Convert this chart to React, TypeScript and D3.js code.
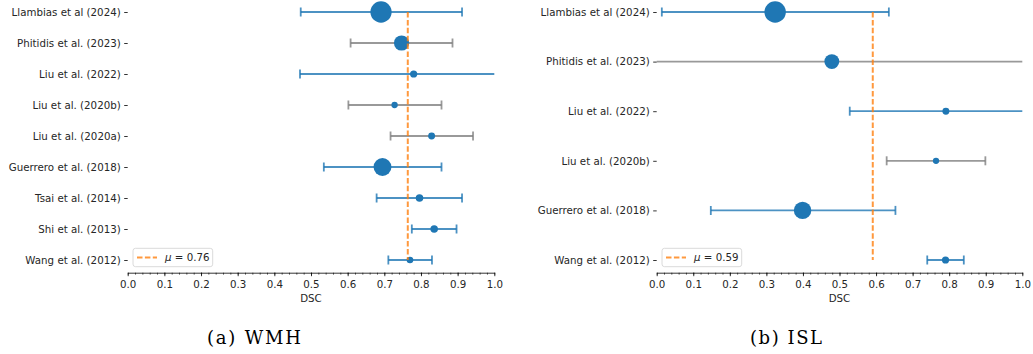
import React, { useEffect, useRef } from "react";
import * as d3 from "d3";

// WMH panel
const wmhStudies = [
  "Llambias et al (2024)",
  "Phitidis et al. (2023)",
  "Liu et al. (2022)",
  "Liu et al. (2020b)",
  "Liu et al. (2020a)",
  "Guerrero et al. (2018)",
  "Tsai et al. (2014)",
  "Shi et al. (2013)",
  "Wang et al. (2012)",
];
const wmhDsc = [0.691, 0.747, 0.78, 0.728, 0.829, 0.695, 0.796, 0.836, 0.77];
const wmhLow = [0.472, 0.608, 0.47, 0.602, 0.717, 0.535, 0.679, 0.775, 0.711];
const wmhHigh = [0.912, 0.886, 1.09, 0.856, 0.942, 0.856, 0.912, 0.897, 0.83];
const wmhSampleSize = [113, 58, 13, 10, 12, 80, 14, 14, 11];
const wmhRangeOnly = [false, true, false, true, true, false, false, false, false];
const wmhMean = 0.764;

// ISL panel
const islStudies = [
  "Llambias et al (2024)",
  "Phitidis et al. (2023)",
  "Liu et al. (2022)",
  "Liu et al. (2020b)",
  "Guerrero et al. (2018)",
  "Wang et al. (2012)",
];
const islDsc = [0.324, 0.479, 0.791, 0.764, 0.399, 0.79];
const islLow = [0.014, -0.08, 0.528, 0.629, 0.148, 0.74];
const islHigh = [0.635, 1.08, 1.06, 0.899, 0.653, 0.84];
const islSampleSize = [115, 55, 12, 10, 76, 13];
const islRangeOnly = [false, true, false, true, false, false];
const islMean = 0.591;

const xTicks = d3.range(0, 1.0001, 0.1);
const xMinorTicks = d3.range(0, 1.0001, 0.02);

const width = 1033;
const height = 354;
const top = 12;
const bottom = 260;
const axisY = 272.7;
const font = "'DejaVu Sans', sans-serif";
const fontSize = 10.25;

const blue = "#1f77b4";
const gray = "#7f7f7f";
const orange = "#ff7f0e";

const rScale = d3.scaleSqrt().domain([0, 121]).range([0, 11]);

type PanelProps = {
  id: string;
  x0: number;
  x1: number;
  studies: string[];
  dsc: number[];
  low: number[];
  high: number[];
  sampleSize: number[];
  rangeOnly: boolean[];
  mean: number;
  caption: string;
  captionX: number;
  captionWidth: number;
};

const Panel = (p: PanelProps) => {
  const xAxisRef = useRef<SVGGElement>(null);
  const xMinorRef = useRef<SVGGElement>(null);
  const yAxisRef = useRef<SVGGElement>(null);

  const x = d3.scaleLinear().domain([0, 1]).range([p.x0, p.x1]);
  const y = d3.scalePoint<string>().domain(p.studies).range([top, bottom]);

  useEffect(() => {
    const gx = d3.select(xAxisRef.current!);
    gx.call(
      d3
        .axisBottom(x)
        .tickValues(xTicks)
        .tickFormat(d3.format(".1f"))
        .tickSize(3.5)
        .tickSizeOuter(0)
        .tickPadding(4.5)
    );
    gx.select(".domain").attr("stroke", "#000").attr("stroke-width", 0.8);
    gx.selectAll(".tick line").attr("stroke", "#000").attr("stroke-width", 0.8);
    gx.selectAll(".tick text")
      .attr("fill", "#262626")
      .style("font-family", font)
      .style("font-size", `${fontSize}px`);

    const gm = d3.select(xMinorRef.current!);
    gm.call(d3.axisBottom(x).tickValues(xMinorTicks).tickFormat(() => "").tickSize(2));
    gm.select(".domain").remove();
    gm.selectAll(".tick line").attr("stroke", "#000").attr("stroke-width", 0.6);

    const gy = d3.select(yAxisRef.current!);
    gy.call(d3.axisLeft(y).tickSize(3.5).tickPadding(3.5));
    gy.select(".domain").remove();
    gy.selectAll(".tick line").attr("stroke", "#000").attr("stroke-width", 0.8);
    gy.selectAll(".tick text")
      .attr("fill", "#262626")
      .style("font-family", font)
      .style("font-size", `${fontSize}px`);
  }, []);

  const cap = 4.5;
  const legX = p.x0 + 5.3;
  const legY = 248.3;

  return (
    <g>
      <defs>
        <clipPath id={`clip-${p.id}`}>
          <rect x={p.x0} y={0} width={p.x1 - p.x0} height={axisY} />
        </clipPath>
      </defs>
      <g clipPath={`url(#clip-${p.id})`}>
        {p.studies.map((s, i) => {
          const c = p.rangeOnly[i] ? gray : blue;
          const yy = y(s)!;
          return (
            <g key={s} stroke={c} strokeOpacity={0.8} strokeWidth={1.8}>
              <line x1={x(p.low[i])} x2={x(p.high[i])} y1={yy} y2={yy} />
              <line x1={x(p.low[i])} x2={x(p.low[i])} y1={yy - cap} y2={yy + cap} />
              <line x1={x(p.high[i])} x2={x(p.high[i])} y1={yy - cap} y2={yy + cap} />
            </g>
          );
        })}
        {p.studies.map((s, i) => (
          <circle key={s} cx={x(p.dsc[i])} cy={y(s)} r={rScale(p.sampleSize[i])} fill={blue} />
        ))}
        <line
          x1={x(p.mean)}
          x2={x(p.mean)}
          y1={top}
          y2={bottom}
          stroke={orange}
          strokeOpacity={0.8}
          strokeWidth={2}
          strokeDasharray="5.5,2.4"
        />
      </g>
      <g ref={xMinorRef} transform={`translate(0,${axisY})`} />
      <g ref={xAxisRef} transform={`translate(0,${axisY})`} />
      <g ref={yAxisRef} transform={`translate(${p.x0},0)`} />
      <text
        x={(p.x0 + p.x1) / 2}
        y={302}
        textAnchor="middle"
        fill="#262626"
        style={{ fontFamily: font, fontSize }}
      >
        DSC
      </text>
      <rect
        x={legX}
        y={legY}
        width={79.7}
        height={18.4}
        rx={2.5}
        fill="#fff"
        fillOpacity={0.8}
        stroke="#d6d6d6"
        strokeWidth={0.9}
      />
      <line
        x1={legX + 4}
        x2={legX + 24}
        y1={legY + 9.3}
        y2={legY + 9.3}
        stroke={orange}
        strokeOpacity={0.8}
        strokeWidth={2}
        strokeDasharray="5.5,2.4"
      />
      <text x={legX + 32} y={legY + 13} fill="#262626" style={{ fontFamily: font, fontSize }}>
        <tspan fontStyle="italic">μ</tspan>
        {` = ${d3.format(".2f")(p.mean)}`}
      </text>
      <text
        x={p.captionX - p.captionWidth / 2}
        y={344.3}
        textLength={p.captionWidth}
        lengthAdjust="spacing"
        fill="#000"
        style={{ fontFamily: "'DejaVu Serif', serif", fontSize: 18 }}
      >
        {p.caption}
      </text>
    </g>
  );
};

const App = () => {
  return (
    <svg
      width={width}
      height={height}
      style={{ position: "absolute", left: 0, top: 0, background: "#fff" }}
    >
      <Panel
        id="wmh"
        x0={127.7}
        x1={494.3}
        studies={wmhStudies}
        dsc={wmhDsc}
        low={wmhLow}
        high={wmhHigh}
        sampleSize={wmhSampleSize}
        rangeOnly={wmhRangeOnly}
        mean={wmhMean}
        caption="(a) WMH"
        captionX={254}
        captionWidth={94}
      />
      <Panel
        id="isl"
        x0={656.7}
        x1={1022.3}
        studies={islStudies}
        dsc={islDsc}
        low={islLow}
        high={islHigh}
        sampleSize={islSampleSize}
        rangeOnly={islRangeOnly}
        mean={islMean}
        caption="(b) ISL"
        captionX={786}
        captionWidth={72}
      />
    </svg>
  );
};

export default App;
